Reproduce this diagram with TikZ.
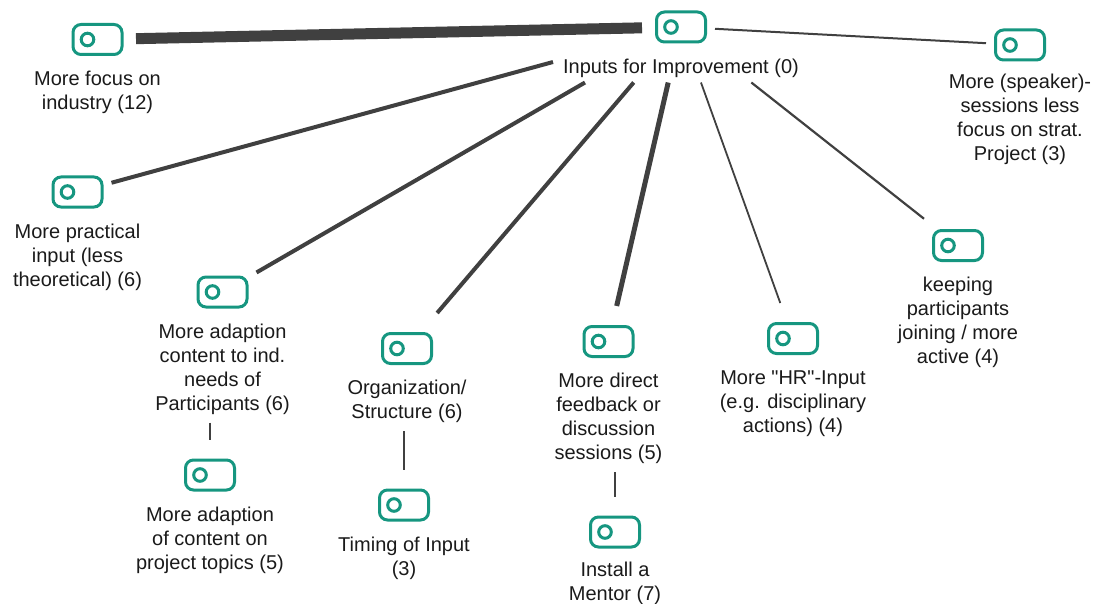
\documentclass[tikz,border=0pt]{standalone}
\usepackage{fontspec}
\setmainfont{Liberation Sans}[Ligatures=TeXOff]
\definecolor{tagteal}{RGB}{22,150,128}
\definecolor{edgegray}{RGB}{64,64,64}
\definecolor{txt}{RGB}{26,26,26}
\begin{document}
\begin{tikzpicture}[x=1pt,y=-1pt,
  icon/.style={draw=tagteal, line width=3pt, rounded corners=8pt,
    minimum width=49pt, minimum height=30pt, inner sep=0pt,
    outer xsep=9.5pt, outer ysep=20.5pt,
    path picture={\draw[tagteal, line width=3pt]
      ([xshift=14.5pt]path picture bounding box.west) circle (6.3pt);}},
  lbl/.style={anchor=north, align=center, inner sep=0pt, outer sep=8pt,
    text=txt, font=\fontsize{20pt}{24pt}\selectfont},
  link/.style={draw=edgegray},
  sub/.style={link, line width=1.5pt}]
\useasboundingbox (0,0) rectangle (1094,604);

% topic icons
\node[icon] (root) at (681,27) {};
\node[icon] (ind)  at (97.5,39.5) {};
\node[icon] (spk)  at (1020,45) {};
\node[icon] (prac) at (77.5,192) {};
\node[icon] (adap) at (222.5,292) {};
\node[icon] (proj) at (210,475) {};
\node[icon] (org)  at (407,348.5) {};
\node[icon] (tim)  at (404,505) {};
\node[icon] (dir)  at (608.5,341.5) {};
\node[icon] (men)  at (615,532) {};
\node[icon] (hr)   at (793,338.5) {};
\node[icon] (keep) at (958,245.5) {};

% captions under the icons
\node[lbl] (rootL) at ([yshift=-24pt]root.center) {Inputs for Improvement (0)};
\node[lbl] (indL)  at ([yshift=-24pt]ind.center)  {More focus on\\industry (12)};
\node[lbl] (spkL)  at ([yshift=-21.5pt]spk.center) {More (speaker)-\\sessions less\\focus on strat.\\Project (3)};
\node[lbl] (pracL) at ([yshift=-24pt]prac.center) {More practical\\input (less\\theoretical) (6)};
\node[lbl] (adapL) at ([yshift=-24pt]adap.center) {More adaption\\content to ind.\\needs of\\Participants (6)};
\node[lbl] (projL) at ([yshift=-24pt]proj.center) {More adaption\\of content on\\project topics (5)};
\node[lbl] (orgL)  at ([yshift=-24pt]org.center)  {Organization/\\Structure (6)};
\node[lbl] (timL)  at ([yshift=-24pt]tim.center)  {Timing of Input\\(3)};
\node[lbl] (dirL)  at ([yshift=-24pt]dir.center)  {More direct\\feedback or\\discussion\\sessions (5)};
\node[lbl] (menL)  at ([yshift=-22pt]men.center)  {Install a\\Mentor (7)};
\node[lbl] (hrL)   at ([yshift=-24pt]hr.center)   {More "HR"-Input\\(e.g. disciplinary\\actions) (4)};
\node[lbl] (keepL) at ([yshift=-24pt]keep.center) {keeping\\participants\\joining / more\\active (4)};

% connectors from the central topic
\draw[link, line width=11pt, shorten <=4.5pt, shorten >=5pt] (ind) -- (root);
\draw[link, line width=2pt] (root) -- (spk);
\draw[link, line width=4pt, shorten <=132.7pt] (root.center) -- (prac);
\draw[link, line width=4pt, shorten <=110.9pt] (root.center) -- (adap);
\draw[link, line width=4pt, shorten <=72.9pt]  (root.center) -- (org);
\draw[link, line width=5pt, shorten <=57pt]    (root.center) -- (dir);
\draw[link, line width=1.8pt, shorten <=59pt]  (root.center) -- (hr);
\draw[link, line width=2.2pt, shorten <=89.6pt] (root.center) -- (keep);

% second-level connectors
\draw[sub] (adapL.south -| proj) -- (proj);
\draw[sub] (orgL.south -| tim) -- (tim);
\draw[sub] (dirL.south -| men) -- (men);
\end{tikzpicture}
\end{document}
